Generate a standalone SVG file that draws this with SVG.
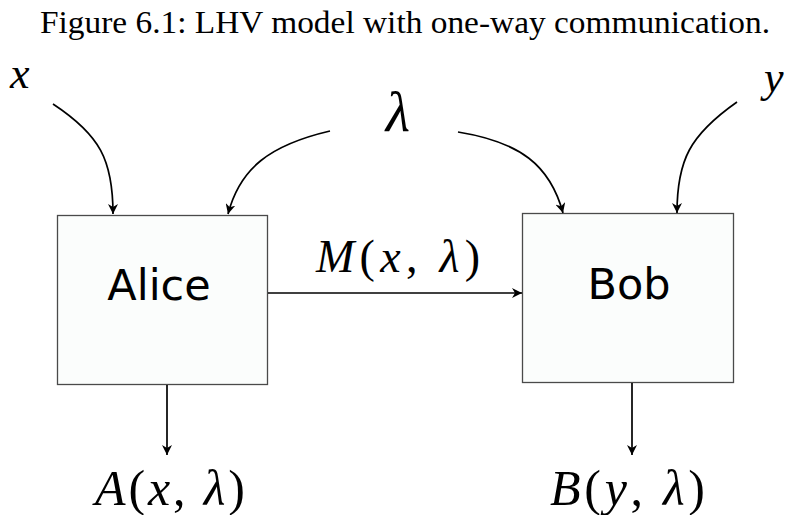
<svg xmlns="http://www.w3.org/2000/svg" width="790" height="515" viewBox="0 0 790 515">
<defs>
<style>
.box{fill:#fbfdfc;stroke:#4a4a4a;stroke-width:1.3}
.lbl{font-family:"DejaVu Sans",sans-serif;font-size:43px;fill:#000}
.edge{fill:none;stroke:#000;stroke-width:1.7}
.m{font-family:"Liberation Serif","Times New Roman",serif;fill:#000}
.i{font-style:italic}
</style>
<marker id="ah" viewBox="0 0 10 10" refX="10" refY="5" markerWidth="10" markerHeight="10" markerUnits="userSpaceOnUse" orient="auto">
<path d="M0,0 L10,5 L0,10 L3,5 Z" fill="#000"/>
</marker>
</defs>
<rect width="790" height="515" fill="#fff"/>
<text x="40" y="33" class="m" font-size="32" textLength="730" lengthAdjust="spacingAndGlyphs">Figure 6.1: LHV model with one-way communication.</text>
<g id="alice">
<rect class="box" x="57.5" y="215.5" width="210" height="169"/>
<text class="lbl" x="159" y="300" text-anchor="middle">Alice</text>
</g>
<g id="bob">
<rect class="box" x="522.5" y="213.5" width="211" height="169"/>
<text class="lbl" x="629" y="299" text-anchor="middle">Bob</text>
</g>
<g id="labels">
<text class="m i" x="10" y="88" font-size="44">x</text>
<text class="m i" x="764" y="92" font-size="44">y</text>
<text class="m i" x="398" y="131" font-size="56" text-anchor="middle">λ</text>
<text class="m" x="316" y="272" font-size="46" textLength="164" lengthAdjust="spacing"><tspan class="i">M</tspan>(<tspan class="i">x</tspan>, <tspan class="i">λ</tspan>)</text>
<text class="m" x="95" y="505" font-size="50" textLength="150" lengthAdjust="spacing"><tspan class="i">A</tspan>(<tspan class="i">x</tspan>, <tspan class="i">λ</tspan>)</text>
<text class="m" x="550" y="505" font-size="50" textLength="155" lengthAdjust="spacing"><tspan class="i">B</tspan>(<tspan class="i">y</tspan>, <tspan class="i">λ</tspan>)</text>
</g>
<g id="connectors">
<path class="edge" d="M53,104 C100,135 113,160 113,214" marker-end="url(#ah)"/>
<path class="edge" d="M330,131 C270,145 240,168 228,214" marker-end="url(#ah)"/>
<path class="edge" d="M458,132 C520,142 550,165 563,213" marker-end="url(#ah)"/>
<path class="edge" d="M737,102 C690,135 677,160 677,213" marker-end="url(#ah)"/>
<path class="edge" d="M268,293 L522,293" marker-end="url(#ah)"/>
<path class="edge" d="M167,385 L167,455" marker-end="url(#ah)"/>
<path class="edge" d="M632,383 L632,455" marker-end="url(#ah)"/>
</g>
</svg>
